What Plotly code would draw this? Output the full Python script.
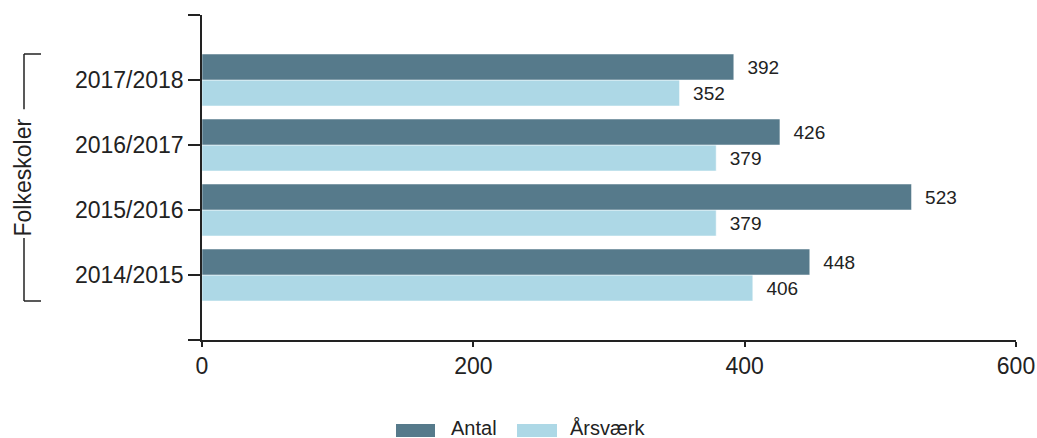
import plotly.graph_objects as go

categories = ["2014/2015", "2015/2016", "2016/2017", "2017/2018"]
antal = [448, 523, 426, 392]
aarsvaerk = [406, 379, 379, 352]
x_ticks = [0, 200, 400, 600]
series_names = ["Antal", "Årsværk"]
colors = ["#567a8b", "#add8e6"]
axis_title = "Folkeskoler"

ypos = list(range(len(categories)))
FONT = "Liberation Sans, Arial, sans-serif"

fig = go.Figure()
# Årsværk first so that it sits below Antal within each group
fig.add_trace(go.Bar(
    y=ypos, x=aarsvaerk, orientation="h", name=series_names[1],
    marker=dict(color=colors[1], line=dict(color="rgba(255,255,255,0.5)", width=1)),
    text=aarsvaerk, texttemplate="\u00a0\u00a0%{x}", textposition="outside",
    constraintext="none", cliponaxis=False,
    textfont=dict(family=FONT, size=19, color="#222"),
    showlegend=False,
))
fig.add_trace(go.Bar(
    y=ypos, x=antal, orientation="h", name=series_names[0],
    marker=dict(color=colors[0], line=dict(color="rgba(255,255,255,0.5)", width=1)),
    text=antal, texttemplate="\u00a0\u00a0%{x}", textposition="outside",
    constraintext="none", cliponaxis=False,
    textfont=dict(family=FONT, size=19, color="#222"),
    showlegend=False,
))

W, H = 1037, 438
ml, mr, mt, mb = 202, 21, 15, 98
pw = W - ml - mr
ph = H - mt - mb

def px_x(px):
    return (px - ml) / pw

def px_y(py):
    return (H - mb - py) / ph

shapes = []
annotations = []

# bracket for y axis title
bx0, bx1 = px_x(24), px_x(41)
shapes += [
    dict(type="line", xref="paper", yref="y", x0=bx0, x1=bx1, y0=3.4, y1=3.4, line=dict(color="#222", width=1.5)),
    dict(type="line", xref="paper", yref="y", x0=bx0, x1=bx0, y0=3.4, y1=2.55, line=dict(color="#222", width=1.5)),
    dict(type="line", xref="paper", yref="y", x0=bx0, x1=bx0, y0=0.57, y1=-0.4, line=dict(color="#222", width=1.5)),
    dict(type="line", xref="paper", yref="y", x0=bx0, x1=bx1, y0=-0.4, y1=-0.4, line=dict(color="#222", width=1.5)),
]
annotations.append(dict(
    text=axis_title, xref="paper", yref="y", x=px_x(22), y=1.5, textangle=-90,
    showarrow=False, xanchor="center", yanchor="middle",
    font=dict(family=FONT, size=23, color="#222"),
))

# manual legend
leg = [(396, 435, 449), (517, 557, 568)]
for (s0, s1, tx), name, c in zip(leg, series_names, colors):
    shapes.append(dict(type="rect", xref="paper", yref="paper",
                       x0=px_x(s0), x1=px_x(s1), y0=px_y(437), y1=px_y(424),
                       fillcolor=c, line=dict(width=0)))
    annotations.append(dict(text=name, xref="paper", yref="paper", x=px_x(tx), y=px_y(428),
                            showarrow=False, xanchor="left", yanchor="middle",
                            font=dict(family=FONT, size=20, color="#222")))

fig.update_layout(
    template="none",
    width=W, height=H, autosize=False,
    margin=dict(l=ml, r=mr, t=mt, b=mb, pad=0, autoexpand=False),
    paper_bgcolor="white", plot_bgcolor="white",
    barmode="group", bargap=0.2, bargroupgap=0,
    shapes=shapes, annotations=annotations,
    font=dict(family=FONT, color="#222"),
    xaxis=dict(
        range=[0, 600], tickvals=x_ticks, ticktext=[str(v) for v in x_ticks],
        showgrid=False, zeroline=False, showline=True, linecolor="#222", linewidth=1.5,
        ticks="outside", ticklen=5, tickcolor="#222", tickwidth=1.5, automargin=False,
        tickfont=dict(family=FONT, size=23, color="#222"),
    ),
    yaxis=dict(
        range=[-1, 4], tickvals=[-1] + ypos + [4], ticktext=[""] + categories + [""],
        showgrid=False, zeroline=False, showline=True, linecolor="#222", linewidth=1.5,
        ticks="outside", ticklen=12, tickcolor="#222", tickwidth=1.5, automargin=False,
        tickfont=dict(family=FONT, size=23, color="#222"),
    ),
)

fig.write_html("out.html", config={"displayModeBar": False, "responsive": False})

# remove the default page margin so the figure sits at the window's top-left corner
with open("out.html", "r", encoding="utf-8") as f:
    html = f.read()
html = html.replace("<body>", '<body style="margin:0;padding:0;overflow:hidden">', 1)
with open("out.html", "w", encoding="utf-8") as f:
    f.write(html)
